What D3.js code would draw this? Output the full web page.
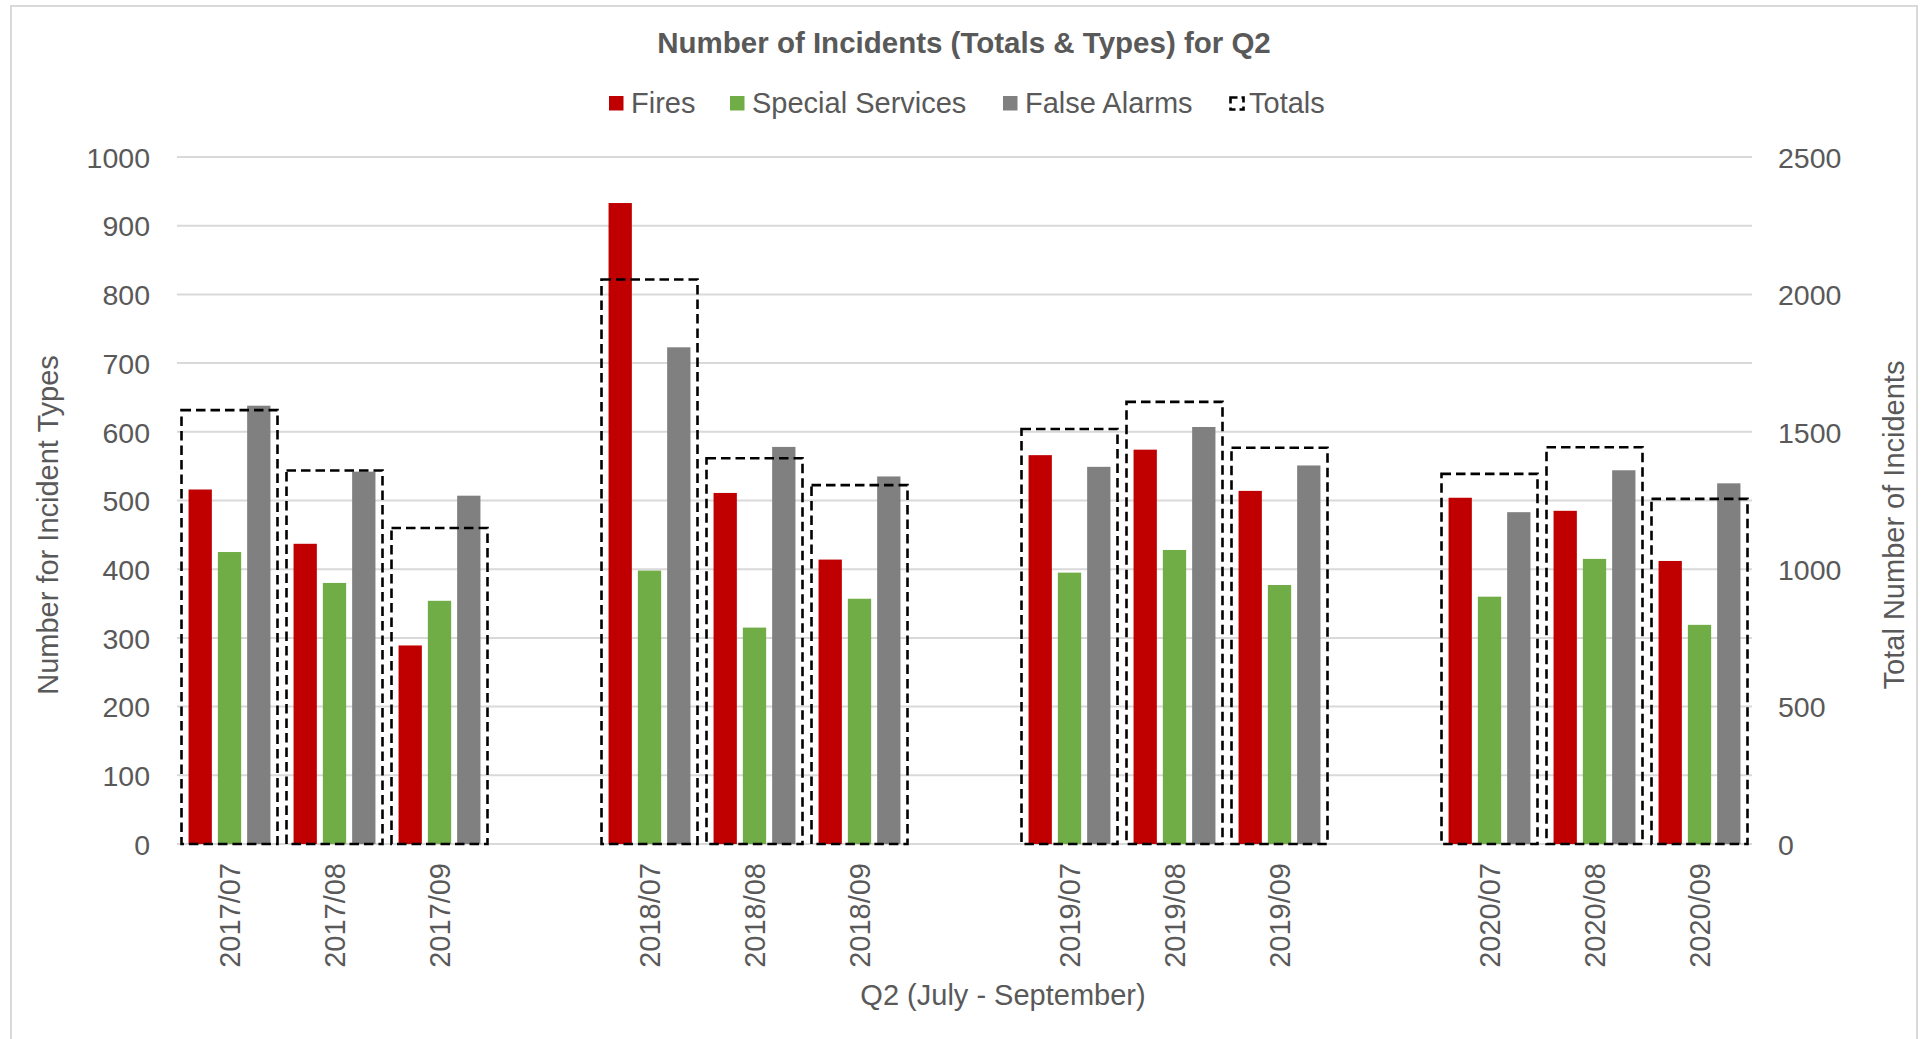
<!DOCTYPE html>
<html>
<head>
<meta charset="utf-8">
<script src="https://cdn.jsdelivr.net/npm/d3@7"></script>
<style>
  html, body { margin: 0; padding: 0; background: #fff; }
  svg { display: block; font-family: "Liberation Sans", Arial, sans-serif; }
</style>
</head>
<body>
<svg id="chart" width="1923" height="1039"></svg>
<script>
// ---- data ----
const categories = ["2017/07","2017/08","2017/09","2018/07","2018/08","2018/09","2019/07","2019/08","2019/09","2020/07","2020/08","2020/09"];
const fires = [516, 437, 289, 933, 511, 414, 566, 574, 514, 504, 485, 412];
const specialServices = [425, 380, 354, 398, 315, 357, 395, 428, 377, 360, 415, 319];
const falseAlarms = [638, 542, 507, 723, 578, 535, 549, 607, 551, 483, 544, 525];
const totals = [1579, 1359, 1150, 2054, 1404, 1306, 1510, 1609, 1442, 1347, 1444, 1256];
const leftTicks = [0, 100, 200, 300, 400, 500, 600, 700, 800, 900, 1000];
const rightTicks = [0, 500, 1000, 1500, 2000, 2500];
const seriesNames = ["Fires", "Special Services", "False Alarms", "Totals"];
const seriesColors = ["#C00000", "#70AD47", "#808080", "none"];

// slots: blank slot between each year group
const slots = [];
categories.forEach((c, i) => {
  slots.push(c);
  if (i % 3 === 2 && i < categories.length - 1) slots.push("gap" + i);
});

const svg = d3.select("#chart");
const plot = { left: 177, right: 1752, top: 157, bottom: 844 };
const textColor = "#595959";
const gridColor = "#d9d9d9";

// chart border
svg.append("rect").attr("x", 11).attr("y", 6).attr("width", 1906).attr("height", 1045)
  .attr("fill", "#fff").attr("stroke", "#d9d9d9").attr("stroke-width", 2);

const x = d3.scaleBand().domain(slots).range([plot.left, plot.right]).padding(0);
const y = d3.scaleLinear().domain([0, 1000]).range([plot.bottom, plot.top]);
const y2 = d3.scaleLinear().domain([0, 2500]).range([plot.bottom, plot.top]);

// gridlines
svg.append("g").selectAll("line").data(leftTicks).join("line")
  .attr("x1", plot.left).attr("x2", plot.right)
  .attr("y1", d => y(d)).attr("y2", d => y(d))
  .attr("stroke", gridColor).attr("stroke-width", 2);

// left axis
const leftAxis = d3.axisLeft(y).tickValues(leftTicks).tickSize(0).tickPadding(0).tickFormat(d3.format("d"));
const gl = svg.append("g").attr("transform", `translate(150,0)`).call(leftAxis);
gl.select(".domain").remove();
gl.selectAll("text").attr("fill", textColor).style("font-size", "28.5px").attr("dy", "0.36em")
  .attr("font-family", "Liberation Sans, Arial, sans-serif");

// right axis
const rightAxis = d3.axisRight(y2).tickValues(rightTicks).tickSize(0).tickPadding(0).tickFormat(d3.format("d"));
const gr = svg.append("g").attr("transform", `translate(1778,0)`).call(rightAxis);
gr.select(".domain").remove();
gr.selectAll("text").attr("fill", textColor).style("font-size", "28.5px").attr("dy", "0.36em")
  .attr("font-family", "Liberation Sans, Arial, sans-serif");

// bars
const barW = 23.3, barStep = 29.3;
const series = [fires, specialServices, falseAlarms];
series.forEach((vals, si) => {
  svg.append("g").selectAll("rect").data(categories).join("rect")
    .attr("x", (c) => x(c) + x.bandwidth() / 2 + (si - 1) * barStep - barW / 2)
    .attr("width", barW)
    .attr("y", (c, i) => y(vals[i]))
    .attr("height", (c, i) => y(0) - y(vals[i]))
    .attr("fill", seriesColors[si]);
});

// totals boxes (secondary axis)
const boxInset = 4.5;
svg.append("g").selectAll("rect").data(categories).join("rect")
  .attr("x", c => x(c) + boxInset)
  .attr("width", x.bandwidth() - 2 * boxInset)
  .attr("y", (c, i) => y2(totals[i]))
  .attr("height", (c, i) => y2(0) - y2(totals[i]))
  .attr("fill", "none").attr("stroke", "#000").attr("stroke-width", 2.6)
  .attr("stroke-dasharray", "9.5,5");

// x tick labels
svg.append("g").selectAll("text").data(categories).join("text")
  .attr("transform", c => `translate(${x(c) + x.bandwidth() / 2},863) rotate(-90)`)
  .attr("text-anchor", "end").attr("dy", "0.36em")
  .attr("fill", textColor).style("font-size", "29px")
  .text(c => c);

// title
svg.append("text").attr("x", 964).attr("y", 53).attr("text-anchor", "middle")
  .attr("fill", textColor).style("font-size", "29.5px").style("font-weight", "bold")
  .text("Number of Incidents (Totals & Types) for Q2");

// legend
const legendX = [609, 730, 1003, 1229];
const lg = svg.append("g");
seriesNames.forEach((name, i) => {
  const g = lg.append("g").attr("transform", `translate(${legendX[i]},0)`);
  if (i < 3) {
    g.append("rect").attr("x", 0).attr("y", 96).attr("width", 14.5).attr("height", 14.5).attr("fill", seriesColors[i]);
  } else {
    g.append("rect").attr("x", 1.5).attr("y", 97.5).attr("width", 13).attr("height", 12)
      .attr("fill", "none").attr("stroke", "#000").attr("stroke-width", 2.6).attr("stroke-dasharray", "7,4");
  }
  g.append("text").attr("x", i === 3 ? 20 : 22).attr("y", 112.5)
    .attr("fill", textColor).style("font-size", "29px").text(name);
});

// axis titles
svg.append("text").attr("transform", "translate(48,525) rotate(-90)")
  .attr("text-anchor", "middle").attr("dy", "0.36em")
  .attr("fill", textColor).style("font-size", "29px").text("Number for Incident Types");
svg.append("text").attr("transform", "translate(1894,525) rotate(-90)")
  .attr("text-anchor", "middle").attr("dy", "0.36em")
  .attr("fill", textColor).style("font-size", "29px").text("Total Number of Incidents");
svg.append("text").attr("x", 1003).attr("y", 1005).attr("text-anchor", "middle")
  .attr("fill", textColor).style("font-size", "29px").text("Q2 (July - September)");
</script>
</body>
</html>
